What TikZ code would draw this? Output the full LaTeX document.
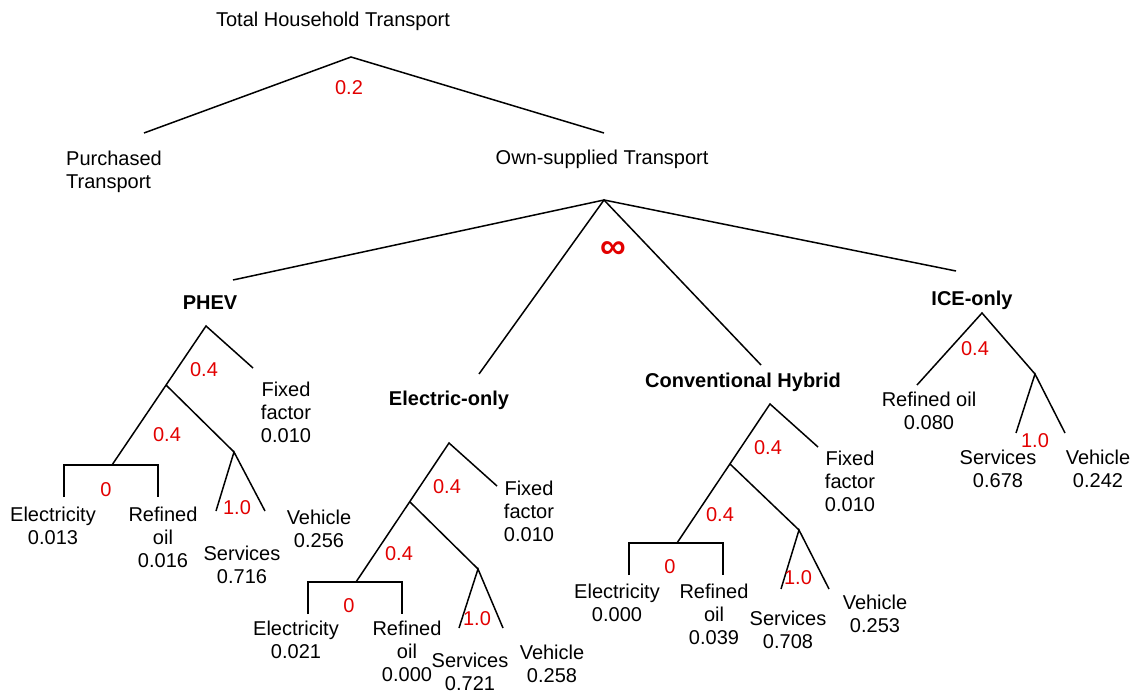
\documentclass[tikz,border=0pt]{standalone}
\usepackage{fontspec}
\setmainfont{Liberation Sans}
\definecolor{sigmared}{RGB}{226, 0, 0}

\begin{document}
\begin{tikzpicture}[x=1pt, y=-1pt,
    txt/.style={anchor=north, inner sep=0pt, align=center, font=\fontsize{20}{23}\selectfont},
    head/.style={txt, font=\fontsize{20}{23}\selectfont\bfseries},
    sigma/.style={txt, text=sigmared},
    branch/.style={line width=1.5pt}]
            \useasboundingbox (0,0) rectangle (1130,692);
            % Top nest
            \node[txt]   (total) at (333.0,  11.5) {Total Household Transport};
            \node[sigma] (s-top) at (349.0,  80.5) {0.2};
            \node[txt, anchor=north west, align=left] (purch) at ( 66.0, 150.5) {Purchased\\Transport};
            \node[txt, anchor=north west]             (own)   at (495.5, 149.5) {Own-supplied Transport};
            \coordinate (total-top) at (351, 57);
            \coordinate (purch-end) at (144,133);
            \coordinate (own-end)   at (604,133);
            \draw[branch] (purch-end) -- (total-top) -- (own-end);
            % Own-supplied nest
            \node[text=sigmared, font=\fontsize{36}{36}\selectfont\bfseries] (s-own) at (613, 250) {∞};
            \coordinate (own-top)  at (604,200);
            \coordinate (phev-end) at (233,280);
            \coordinate (elec-end) at (479,374);
            \coordinate (hyb-end)  at (761,365);
            \coordinate (ice-end)  at (956,271);
            \draw[branch] (phev-end) -- (own-top) -- (ice-end);
            \draw[branch] (elec-end) -- (own-top) -- (hyb-end);
            % PHEV
            \node[head] (phev) at (210.0, 295.5) {PHEV};
            \coordinate (phev-top) at (206,326);
            \coordinate (phev-ff)  at (253,368);
            \coordinate (phev-n1)  at (166,385);
            \coordinate (phev-brk) at (112,465);
            \coordinate (phev-n2)  at (234,452);
            \coordinate (phev-el)  at ( 64,497);
            \coordinate (phev-ro)  at (158,497);
            \coordinate (phev-sv)  at (216,511);
            \coordinate (phev-vh)  at (265,511);
            \draw[branch] (phev-ff) -- (phev-top) -- (phev-brk);
            \draw[branch] (phev-n1) -- (phev-n2);
            \draw[branch] (phev-sv) -- (phev-n2) -- (phev-vh);
            \draw[branch] (phev-el) |- (phev-brk) -| (phev-ro);
            \node[sigma] (phev-s1) at (204.0, 362.5) {0.4};
            \node[sigma] (phev-s2) at (167.0, 427.5) {0.4};
            \node[sigma] (phev-s3) at (106.0, 482.5) {0};
            \node[sigma] (phev-s4) at (237.0, 500.5) {1.0};
            \node[txt] (phev-fix) at (286.0, 381.5) {Fixed\\factor\\0.010};
            \node[txt] (phev-ele) at ( 53.0, 506.5) {Electricity\\0.013};
            \node[txt] (phev-oil) at (163.0, 506.5) {Refined\\oil\\0.016};
            \node[txt] (phev-svc) at (242.0, 545.5) {Services\\0.716};
            \node[txt] (phev-veh) at (319.0, 509.5) {Vehicle\\0.256};
            % Electric-only
            \node[head] (elec) at (449.0, 390.5) {Electric-only};
            \coordinate (elec-top) at (449,443);
            \coordinate (elec-ff)  at (497,486);
            \coordinate (elec-n1)  at (410,502);
            \coordinate (elec-brk) at (356,582);
            \coordinate (elec-n2)  at (478,569);
            \coordinate (elec-el)  at (308,614);
            \coordinate (elec-ro)  at (402,614);
            \coordinate (elec-sv)  at (459,628);
            \coordinate (elec-vh)  at (503,628);
            \draw[branch] (elec-ff) -- (elec-top) -- (elec-brk);
            \draw[branch] (elec-n1) -- (elec-n2);
            \draw[branch] (elec-sv) -- (elec-n2) -- (elec-vh);
            \draw[branch] (elec-el) |- (elec-brk) -| (elec-ro);
            \node[sigma] (elec-s1) at (447.0, 479.5) {0.4};
            \node[sigma] (elec-s2) at (399.0, 546.5) {0.4};
            \node[sigma] (elec-s3) at (349.0, 598.5) {0};
            \node[sigma] (elec-s4) at (477.0, 611.5) {1.0};
            \node[txt] (elec-fix) at (529.0, 480.5) {Fixed\\factor\\0.010};
            \node[txt] (elec-ele) at (296.0, 620.5) {Electricity\\0.021};
            \node[txt] (elec-oil) at (407.0, 620.5) {Refined\\oil\\0.000};
            \node[txt] (elec-svc) at (470.0, 652.5) {Services\\0.721};
            \node[txt] (elec-veh) at (552.0, 644.5) {Vehicle\\0.258};
            % Conventional Hybrid
            \node[head] (hyb) at (743.0, 372.5) {Conventional Hybrid};
            \coordinate (hyb-top) at (770,404);
            \coordinate (hyb-ff)  at (818,447);
            \coordinate (hyb-n1)  at (730,464);
            \coordinate (hyb-brk) at (677,543);
            \coordinate (hyb-n2)  at (799,530);
            \coordinate (hyb-el)  at (629,575);
            \coordinate (hyb-ro)  at (723,575);
            \coordinate (hyb-sv)  at (781,589);
            \coordinate (hyb-vh)  at (829,589);
            \draw[branch] (hyb-ff) -- (hyb-top) -- (hyb-brk);
            \draw[branch] (hyb-n1) -- (hyb-n2);
            \draw[branch] (hyb-sv) -- (hyb-n2) -- (hyb-vh);
            \draw[branch] (hyb-el) |- (hyb-brk) -| (hyb-ro);
            \node[sigma] (hyb-s1) at (768.0, 440.5) {0.4};
            \node[sigma] (hyb-s2) at (720.0, 507.5) {0.4};
            \node[sigma] (hyb-s3) at (670.0, 559.5) {0};
            \node[sigma] (hyb-s4) at (798.0, 570.5) {1.0};
            \node[txt] (hyb-fix) at (850.0, 450.5) {Fixed\\factor\\0.010};
            \node[txt] (hyb-ele) at (617.0, 583.5) {Electricity\\0.000};
            \node[txt] (hyb-oil) at (714.0, 583.5) {Refined\\oil\\0.039};
            \node[txt] (hyb-svc) at (788.0, 610.5) {Services\\0.708};
            \node[txt] (hyb-veh) at (875.0, 594.5) {Vehicle\\0.253};
            % ICE-only
            \node[head] (ice) at (972.0, 290.5) {ICE-only};
            \coordinate (ice-top) at (982,313);
            \coordinate (ice-ro)  at (917,385);
            \coordinate (ice-n)   at (1035,374);
            \coordinate (ice-sv)  at (1016,433);
            \coordinate (ice-vh)  at (1065,433);
            \draw[branch] (ice-ro) -- (ice-top) -- (ice-n);
            \draw[branch] (ice-sv) -- (ice-n) -- (ice-vh);
            \node[sigma] (ice-s1) at (975.0, 341.5) {0.4};
            \node[sigma] (ice-s2) at (1035.0, 433.5) {1.0};
            \node[txt] (ice-oil) at ( 929.0, 391.5) {Refined oil\\0.080};
            \node[txt] (ice-svc) at ( 998.0, 449.5) {Services\\0.678};
            \node[txt] (ice-veh) at (1098.0, 449.5) {Vehicle\\0.242};
\end{tikzpicture}
\end{document}
